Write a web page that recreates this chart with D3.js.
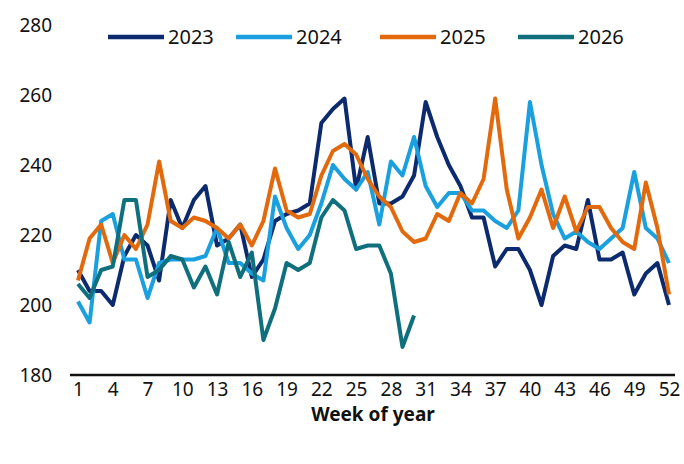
<!DOCTYPE html>
<meta charset="utf-8" />
<title>Weekly index</title>
<script src="https://d3js.org/d3.v7.min.js"></script>
<style>
  body { margin: 0; background: #fff; }
  text { font-family: "Noto Sans", "Open Sans", sans-serif; }
</style>
<div id="chart"></div>
<script>
  var weeks = d3.range(1, 53);
  var y2023 = [210,204,204,200,214,220,217,207,230,222,230,234,217,219,223,208,213,224,226,227,229,252,256,259,233,248,229,229,231,237,258,248,240,234,225,225,211,216,216,210,200,214,217,216,230,213,213,215,203,209,212,200];
  var y2024 = [201,195,224,226,213,213,202,212,213,213,213,214,222,212,212,209,207,231,222,216,220,229,240,236,233,238,223,241,237,248,234,228,232,232,227,227,224,222,227,258,240,226,219,221,218,216,219,222,238,222,219,212];
  var y2025 = [207,219,223,212,220,216,223,241,224,222,225,224,222,219,223,217,224,239,227,225,226,237,244,246,243,236,231,228,221,218,219,226,224,232,229,236,259,233,219,225,233,222,231,221,228,228,222,218,216,235,222,203];
  var y2026 = [206,202,210,211,230,230,208,210,214,213,205,211,203,218,208,215,190,199,212,210,212,225,230,227,216,217,217,209,188,197];
  var xTicks = d3.range(1, 53, 3);
  var yTicks = [180, 200, 220, 240, 260, 280];

  var series = [
    { name: '2023', color: '#0c2a6e', values: y2023 },
    { name: '2024', color: '#1a9fdf', values: y2024 },
    { name: '2025', color: '#e2690c', values: y2025 },
    { name: '2026', color: '#0f6f7d', values: y2026 }
  ];

  var W = 684, H = 464;
  var svg = d3.select('#chart').append('svg').attr('width', W).attr('height', H);

  var x = d3.scaleLinear().domain([1, 52]).range([78, 669]);
  var y = d3.scaleLinear().domain([180, 280]).range([375, 25]);

  // y labels, no axis line
  svg.selectAll('.ylab').data(yTicks).enter().append('text')
    .attr('x', 52).attr('y', d => y(d)).attr('dy', '0.35em')
    .attr('text-anchor', 'end').attr('font-size', 19).attr('fill', '#111')
    .text(d => d);

  var line = d3.line().x((d, i) => x(weeks[i])).y(d => y(d));
  svg.selectAll('.series').data(series).enter().append('path')
    .attr('fill', 'none').attr('stroke', d => d.color)
    .attr('stroke-width', 4).attr('stroke-linejoin', 'round')
    .attr('d', d => line(d.values));

  var xAxis = svg.append('g').attr('transform', 'translate(0,375)')
    .call(d3.axisBottom(x).tickValues(xTicks).tickSize(0).tickPadding(8));
  xAxis.select('.domain').attr('stroke', '#111').attr('stroke-width', 2.5)
    .attr('d', 'M70,0H675');
  xAxis.selectAll('text').attr('font-size', 19).attr('fill', '#111')
    .style('font-family', '"Noto Sans", "Open Sans", sans-serif');

  svg.append('text').attr('x', 373).attr('y', 421).attr('text-anchor', 'middle')
    .attr('font-size', 19).attr('font-weight', 'bold').attr('fill', '#111')
    .text('Week of year');

  // legend
  var legX = [108, 236, 380, 518];
  var leg = svg.selectAll('.leg').data(series).enter().append('g')
    .attr('transform', (d, i) => 'translate(' + legX[i] + ',37)');
  leg.append('line').attr('x1', 0).attr('x2', 56).attr('stroke', d => d.color).attr('stroke-width', 4.5);
  leg.append('text').attr('x', 60).attr('dy', '0.35em').attr('font-size', 20).attr('fill', '#111').text(d => d.name);
</script>
